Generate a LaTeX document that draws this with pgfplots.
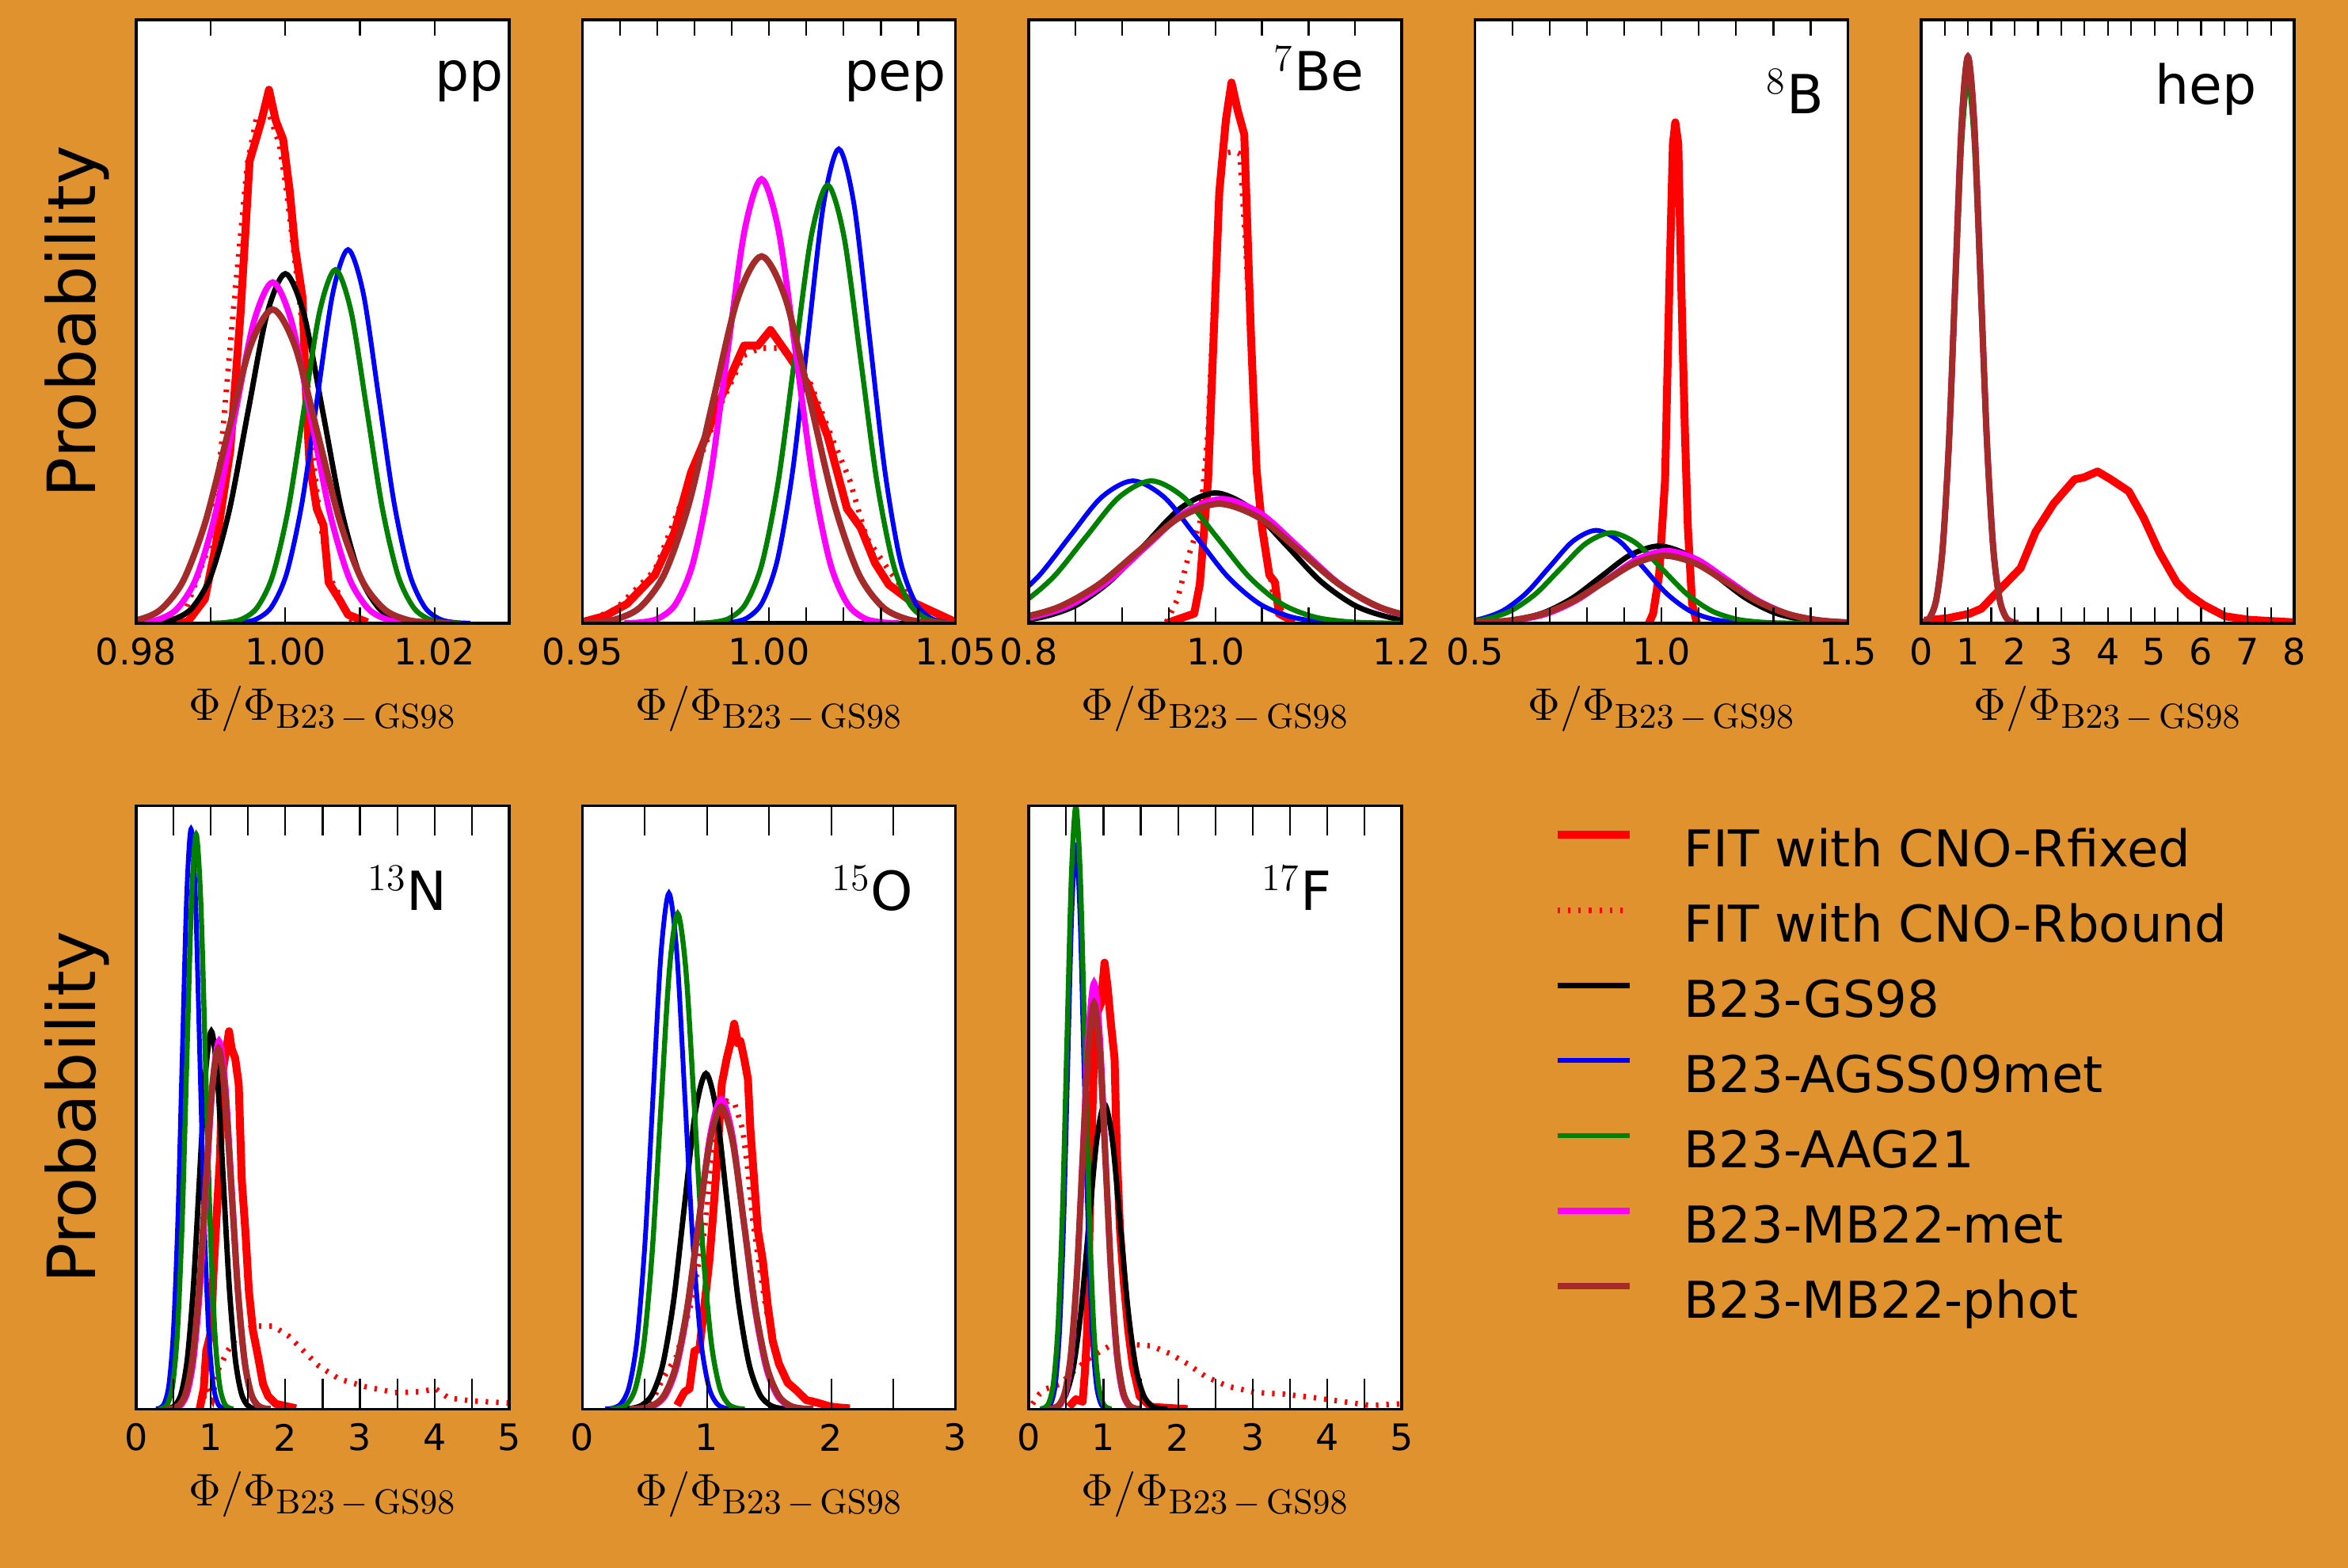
\documentclass[border=0pt]{standalone}
\usepackage[no-math]{fontspec}
\setmainfont{DejaVu Sans}
\usepackage{pgfplots}
\pgfplotsset{compat=1.18}

\definecolor{bgorange}{RGB}{223,146,45}
\definecolor{mred}{RGB}{255,0,0}
\definecolor{mblue}{RGB}{0,0,255}
\definecolor{mgreen}{RGB}{0,128,0}
\definecolor{mmag}{RGB}{255,0,255}
\definecolor{mbrown}{RGB}{165,42,42}

\newcommand\tickfont{\fontsize{11.5}{13}\selectfont}
\newcommand\labfont{\fontsize{21}{25}\selectfont}
\newcommand\panfont{\fontsize{17}{20}\selectfont}
\newcommand\legfont{\fontsize{16}{19}\selectfont}
\newcommand\xlabfont{\fontsize{15}{17}\selectfont}

\pgfplotsset{
  fitR/.style={mred, line width=2.5pt, line join=round},
  fitB/.style={mred, line width=1.7pt, dash pattern=on 0.8pt off 2.5pt},
  gs/.style={black, line width=1.7pt, smooth},
  agss/.style={mblue, line width=1.5pt, smooth},
  aag/.style={mgreen, line width=1.6pt, smooth},
  mbm/.style={mmag, line width=1.9pt, smooth},
  mbp/.style={mbrown, line width=2.0pt, smooth},
  panel/.style={
    scale only axis, width=117.75pt, height=190.5pt, anchor=north west,
    axis background/.style={fill=white},
    axis on top,
    axis line style={line width=0.9pt},
    every tick/.style={black, line width=0.55pt},
    ymin=0, ytick=\empty,
    /pgf/number format/assume math mode=true,
    xticklabel style={font=\tickfont, anchor=center, yshift=-8.9pt},
    xlabel={$\Phi/\Phi_{\mathrm{B23}\,-\,\mathrm{GS98}}$},
    xlabel style={font=\xlabfont, at={(axis description cs:0.5,0)}, anchor=base, yshift=-30.5pt},
    ylabel style={font=\labfont, at={([xshift=-12.9pt]axis description cs:0,0.5)}, anchor=base},
    no markers,
  },
  toprow/.style={panel, major tick length=4.9pt, minor tick length=9.8pt},
  botrow/.style={panel, major tick length=9.5pt, minor tick length=9.5pt},
}

\begin{document}
\begin{tikzpicture}
\fill[bgorange] (0,0) rectangle (741.25pt,-495pt);

% ---------------- pp
\begin{axis}[toprow, at={(43pt,-6.25pt)},
  xmin=0.98, xmax=1.03, ymax=120,
  xtick={0.98,0.99,1.00,1.01,1.02,1.03}, xticklabels={0.98,,1.00,,1.02,},
  minor ytick={20,40,60,80,100}, ylabel={Probability}]
\addplot[fitR] coordinates {(0.9845,0)(0.9869,0.3)(0.9892,4.8)(0.9907,15.7)(0.9926,34.3)(0.9940,61.9)(0.9952,91.9)(0.9968,100)(0.9978,106.1)(0.9987,100)(0.9997,96.2)(1.0006,85.7)(1.0013,74.7)(1.0023,64.7)(1.0027,47.6)(1.0032,32.4)(1.0042,22.8)(1.0051,19.5)(1.0058,8.1)(1.0072,4.8)(1.0084,1.7)(1.0110,0.2)};
\addplot[fitB] coordinates {(0.9836,0)(0.9864,1.7)(0.9902,17.1)(0.9916,38.1)(0.9930,61.9)(0.9949,91.4)(0.9961,100.4)(0.9978,101.4)(0.9992,95.2)(1.0001,86.6)(1.0011,74.3)(1.0020,62.8)(1.0030,47.6)(1.0037,33.3)(1.0046,20.9)(1.0058,9.5)(1.0072,5.7)(1.0082,1.9)(1.0091,0.2)};
\addplot[gs] coordinates {(0.9800,0.02)(0.9825,0.15)(0.9850,0.77)(0.9875,3.05)(0.9900,9.40)(0.9925,22.57)(0.9950,42.15)(0.9975,61.33)(1.0000,69.5)(1.0025,61.33)(1.0050,42.15)(1.0075,22.57)(1.0100,9.40)(1.0125,3.05)(1.0150,0.77)(1.0175,0.15)(1.0200,0.02)};
\addplot[agss] coordinates {(0.99200,0.02)(0.99405,0.16)(0.99610,0.82)(0.99815,3.26)(1.00020,10.05)(1.00225,24.12)(1.00430,45.06)(1.00635,65.57)(1.00840,74.3)(1.01045,65.57)(1.01250,45.06)(1.01455,24.12)(1.01660,10.05)(1.01865,3.26)(1.02070,0.82)(1.02275,0.16)(1.02480,0.02)};
\addplot[aag] coordinates {(0.9899,0.02)(0.9920,0.15)(0.9941,0.78)(0.9962,3.09)(0.9983,9.51)(1.0004,22.83)(1.0025,42.64)(1.0046,62.04)(1.0067,70.3)(1.0088,62.04)(1.0109,42.64)(1.0130,22.83)(1.0151,9.51)(1.0172,3.09)(1.0193,0.78)(1.0214,0.15)(1.0235,0.02)};
\addplot[mbm] coordinates {(0.9779,0.02)(0.98045,0.15)(0.9830,0.75)(0.98555,2.98)(0.9881,9.17)(0.99065,22.01)(0.9932,41.12)(0.99575,59.83)(0.9983,67.8)(1.00085,59.83)(1.0034,41.12)(1.00595,22.01)(1.0085,9.17)(1.01105,2.98)(1.0136,0.75)(1.01615,0.15)(1.0187,0.02)};
\addplot[mbp] coordinates {(0.9743,0.02)(0.9773,0.14)(0.9803,0.69)(0.9833,2.74)(0.9863,8.44)(0.9893,20.26)(0.9923,37.85)(0.9953,55.07)(0.9983,62.4)(1.0013,55.07)(1.0043,37.85)(1.0073,20.26)(1.0103,8.44)(1.0133,2.74)(1.0163,0.69)(1.0193,0.14)(1.0223,0.02)};
\node[anchor=base west, font=\panfont, inner sep=0pt] at (rel axis cs:0.80,0.882) {pp};
\end{axis}

% ---------------- pep
\begin{axis}[toprow, at={(183.9pt,-6.25pt)},
  xmin=0.95, xmax=1.05, ymax=5,
  xtick={0.95,0.96,0.97,0.98,0.99,1.00,1.01,1.02,1.03,1.04,1.05}, xticklabels={0.95,,,,,1.00,,,,,1.05},
  minor ytick={1,2,3,4}]
\addplot[fitR] coordinates {(0.9500,0.01)(0.9560,0.06)(0.9619,0.16)(0.9694,0.40)(0.9746,0.75)(0.9791,1.25)(0.9821,1.47)(0.9873,1.88)(0.9933,2.30)(0.9970,2.30)(1.0004,2.43)(1.0052,2.22)(1.0104,1.98)(1.0157,1.55)(1.0209,0.95)(1.0246,0.79)(1.0284,0.50)(1.0321,0.32)(1.0381,0.18)(1.0500,0.01)};
\addplot[fitB] coordinates {(0.9500,0)(0.9590,0.12)(0.9694,0.44)(0.9769,1.03)(0.9828,1.47)(0.9873,1.83)(0.9933,2.22)(0.9978,2.28)(1.0022,2.28)(1.0067,2.20)(1.0112,1.98)(1.0172,1.51)(1.0216,1.19)(1.0261,0.71)(1.0321,0.44)(1.0381,0.20)(1.0470,0.04)};
\addplot[gs] coordinates {(0.9900,0)(1.0500,0)};
\addplot[agss] coordinates {(0.9859,0.0013)(0.9900,0.0086)(0.9941,0.0436)(0.9982,0.1725)(1.0023,0.5317)(1.0064,1.276)(1.0105,2.384)(1.0146,3.468)(1.0187,3.93)(1.0228,3.468)(1.0269,2.384)(1.0310,1.276)(1.0351,0.5317)(1.0392,0.1725)(1.0433,0.0436)(1.0474,0.0086)(1.0515,0.0013)};
\addplot[aag] coordinates {(0.9805,0.0012)(0.9849,0.008)(0.9893,0.0403)(0.9937,0.1594)(0.9981,0.4911)(1.0025,1.1787)(1.0069,2.2016)(1.0113,3.2035)(1.0157,3.63)(1.0201,3.2035)(1.0245,2.2016)(1.0289,1.1787)(1.0333,0.4911)(1.0377,0.1594)(1.0421,0.0403)(1.0465,0.008)(1.0509,0.0012)};
\addplot[mbm] coordinates {(0.9612,0.0012)(0.9658,0.0081)(0.9704,0.0408)(0.9750,0.1616)(0.9796,0.4979)(0.9842,1.1949)(0.9888,2.2319)(0.9934,3.2476)(0.9980,3.68)(1.0026,3.2476)(1.0072,2.2319)(1.0118,1.1949)(1.0164,0.4979)(1.0210,0.1616)(1.0256,0.0408)(1.0302,0.0081)(1.0348,0.0012)};
\addplot[mbp] coordinates {(0.9460,0.001)(0.9525,0.0067)(0.9590,0.0337)(0.9655,0.1335)(0.9720,0.4113)(0.9785,0.9871)(0.9850,1.8438)(0.9915,2.6828)(0.9980,3.04)(1.0045,2.6828)(1.0110,1.8438)(1.0175,0.9871)(1.0240,0.4113)(1.0305,0.1335)(1.0370,0.0337)(1.0435,0.0067)(1.0500,0.001)};
\node[anchor=base west, font=\panfont, inner sep=0pt] at (rel axis cs:0.70,0.882) {pep};
\end{axis}

% ---------------- 7Be
\begin{axis}[toprow, at={(324.8pt,-6.25pt)},
  xmin=0.8, xmax=1.2, ymax=5,
  xtick={0.8,0.85,0.9,0.95,1.0,1.05,1.1,1.15,1.2}, xticklabels={0.8,,,,1.0,,,,1.2},
  minor ytick={1,2,3,4}]
\addplot[fitR] coordinates {(0.9475,0)(0.9773,0.08)(0.9833,0.32)(0.9922,1.19)(0.9982,2.38)(1.0042,3.57)(1.0113,4.17)(1.0173,4.48)(1.0239,4.25)(1.0310,4.05)(1.0382,2.38)(1.0442,1.27)(1.0501,0.79)(1.0579,0.40)(1.0639,0.34)(1.0681,0.08)(1.0848,0.01)};
\addplot[fitB] coordinates {(0.9475,0.01)(0.9594,0.20)(0.9713,0.56)(0.9833,0.83)(0.9922,1.59)(1.0012,3.17)(1.0072,3.89)(1.0203,3.91)(1.0263,3.89)(1.0322,3.17)(1.0400,1.98)(1.0460,1.19)(1.0519,0.79)(1.0609,0.28)(1.0728,0.08)(1.0848,0.01)};
\addplot[gs] coordinates {(0.7000,0.0004)(0.7375,0.0024)(0.7750,0.012)(0.8125,0.0474)(0.8500,0.1461)(0.8875,0.3507)(0.9250,0.655)(0.9625,0.9531)(1.0000,1.08)(1.0375,0.9531)(1.0750,0.655)(1.1125,0.3507)(1.1500,0.1461)(1.1875,0.0474)(1.2250,0.012)(1.2625,0.0024)(1.3000,0.0004)};
\addplot[agss] coordinates {(0.6396,0.0004)(0.6736,0.0026)(0.7076,0.0131)(0.7416,0.0518)(0.7756,0.1597)(0.8096,0.3831)(0.8436,0.7157)(0.8776,1.0414)(0.9116,1.18)(0.9456,1.0414)(0.9796,0.7157)(1.0136,0.3831)(1.0476,0.1597)(1.0816,0.0518)(1.1156,0.0131)(1.1496,0.0026)(1.1836,0.0004)};
\addplot[aag] coordinates {(0.6513,0.0004)(0.6863,0.0026)(0.7213,0.0131)(0.7563,0.0518)(0.7913,0.1597)(0.8263,0.3831)(0.8613,0.7157)(0.8963,1.0414)(0.9313,1.18)(0.9663,1.0414)(1.0013,0.7157)(1.0363,0.3831)(1.0713,0.1597)(1.1063,0.0518)(1.1413,0.0131)(1.1763,0.0026)(1.2113,0.0004)};
\addplot[mbm] coordinates {(0.6752,0.0003)(0.7167,0.0023)(0.7582,0.0114)(0.7997,0.0452)(0.8412,0.1394)(0.8827,0.3344)(0.9242,0.6247)(0.9657,0.909)(1.0072,1.03)(1.0487,0.909)(1.0902,0.6247)(1.1317,0.3344)(1.1732,0.1394)(1.2147,0.0452)(1.2562,0.0114)(1.2977,0.0023)(1.3392,0.0003)};
\addplot[mbp] coordinates {(0.6600,0.0003)(0.7030,0.0022)(0.7460,0.011)(0.7890,0.0435)(0.8320,0.1339)(0.8750,0.3215)(0.9180,0.6004)(0.9610,0.8737)(1.0040,0.99)(1.0470,0.8737)(1.0900,0.6004)(1.1330,0.3215)(1.1760,0.1339)(1.2190,0.0435)(1.2620,0.011)(1.3050,0.0022)(1.3480,0.0003)};
\node[anchor=base west, font=\panfont, inner sep=0pt] at (rel axis cs:0.655,0.882) {$^{7}$Be};
\end{axis}

% ---------------- 8B
\begin{axis}[toprow, at={(465.65pt,-6.25pt)},
  xmin=0.5, xmax=1.5, ymax=5,
  xtick={0.5,0.6,0.7,0.8,0.9,1.0,1.1,1.2,1.3,1.4,1.5}, xticklabels={0.5,,,,,1.0,,,,,1.5},
  minor ytick={1,2,3,4}]
\addplot[fitR] coordinates {(0.9662,0)(0.9775,0.08)(0.9936,0.40)(1.0096,1.19)(1.0209,2.78)(1.0305,3.97)(1.0370,4.15)(1.0450,3.97)(1.0531,2.78)(1.0627,1.59)(1.0707,0.79)(1.0820,0.16)(1.0949,0)};
\addplot[fitB] coordinates {(0.9662,0)(0.9775,0.08)(0.9936,0.40)(1.0096,1.19)(1.0209,2.78)(1.0305,3.97)(1.0370,4.12)(1.0450,3.97)(1.0531,2.78)(1.0627,1.59)(1.0707,0.79)(1.0820,0.16)(1.0949,0)};
\addplot[gs] coordinates {(0.3736,0.0002)(0.4511,0.0014)(0.5286,0.0071)(0.6061,0.0281)(0.6836,0.0866)(0.7611,0.2078)(0.8386,0.3882)(0.9161,0.5648)(0.9936,0.64)(1.0711,0.5648)(1.1486,0.3882)(1.2261,0.2078)(1.3036,0.0866)(1.3811,0.0281)(1.4586,0.0071)(1.5361,0.0014)(1.6136,0.0002)};
\addplot[agss] coordinates {(0.3248,0.0003)(0.3873,0.0017)(0.4498,0.0085)(0.5123,0.0338)(0.5748,0.1042)(0.6373,0.25)(0.6998,0.467)(0.7623,0.6795)(0.8248,0.77)(0.8873,0.6795)(0.9498,0.467)(1.0123,0.25)(1.0748,0.1042)(1.1373,0.0338)(1.1998,0.0085)(1.2623,0.0017)(1.3248,0.0003)};
\addplot[aag] coordinates {(0.3250,0.0003)(0.3925,0.0017)(0.4600,0.0083)(0.5275,0.0329)(0.5950,0.1015)(0.6625,0.2435)(0.7300,0.4549)(0.7975,0.6619)(0.8650,0.75)(0.9325,0.6619)(1.0000,0.4549)(1.0675,0.2435)(1.1350,0.1015)(1.2025,0.0329)(1.2700,0.0083)(1.3375,0.0017)(1.4050,0.0003)};
\addplot[mbm] coordinates {(0.3745,0.0002)(0.4545,0.0013)(0.5345,0.0067)(0.6145,0.0263)(0.6945,0.0812)(0.7745,0.1948)(0.8545,0.3639)(0.9345,0.5295)(1.0145,0.6)(1.0945,0.5295)(1.1745,0.3639)(1.2545,0.1948)(1.3345,0.0812)(1.4145,0.0263)(1.4945,0.0067)(1.5745,0.0013)(1.6545,0.0002)};
\addplot[mbp] coordinates {(0.3496,0.0002)(0.4321,0.0012)(0.5146,0.0062)(0.5971,0.0246)(0.6796,0.0758)(0.7621,0.1818)(0.8446,0.3396)(0.9271,0.4942)(1.0096,0.56)(1.0921,0.4942)(1.1746,0.3396)(1.2571,0.1818)(1.3396,0.0758)(1.4221,0.0246)(1.5046,0.0062)(1.5871,0.0012)(1.6696,0.0002)};
\node[anchor=base west, font=\panfont, inner sep=0pt] at (rel axis cs:0.78,0.844) {$^{8}$B};
\end{axis}

% ---------------- hep
\begin{axis}[toprow, at={(606.55pt,-6.25pt)},
  xmin=0, xmax=8, ymax=7,
  xtick={0,0.5,1,1.5,2,2.5,3,3.5,4,4.5,5,5.5,6,6.5,7,7.5,8}, xticklabels={0,,1,,2,,3,,4,,5,,6,,7,,8},
  minor ytick={1,2,3,4,5,6}]
\addplot[fitR] coordinates {(0.06,0.03)(0.58,0.06)(1.03,0.11)(1.29,0.17)(1.68,0.39)(2.13,0.64)(2.45,1.06)(2.84,1.39)(3.29,1.67)(3.48,1.69)(3.78,1.76)(4.06,1.67)(4.45,1.53)(4.77,1.22)(5.10,0.83)(5.48,0.47)(5.74,0.33)(6.06,0.21)(6.52,0.08)(7.03,0.04)(8.00,0.01)};
\addplot[fitB] coordinates {(0.06,0.03)(0.58,0.06)(1.03,0.12)(1.29,0.17)(1.68,0.40)(2.13,0.66)(2.45,1.05)(2.84,1.40)(3.29,1.66)(3.48,1.70)(3.78,1.75)(4.06,1.68)(4.45,1.52)(4.77,1.23)(5.10,0.82)(5.48,0.48)(5.74,0.32)(6.06,0.22)(6.52,0.08)(7.03,0.04)(8.00,0.01)};
\addplot[gs] coordinates {(-0.080,0.0022)(0.055,0.0145)(0.190,0.0729)(0.325,0.2884)(0.460,0.8889)(0.595,2.1333)(0.730,3.9847)(0.865,5.798)(1.000,6.57)(1.135,5.798)(1.270,3.9847)(1.405,2.1333)(1.540,0.8889)(1.675,0.2884)(1.810,0.0729)(1.945,0.0145)(2.080,0.0022)};
\addplot[agss] coordinates {(-0.080,0.0022)(0.055,0.0145)(0.190,0.0729)(0.325,0.2884)(0.460,0.8889)(0.595,2.1333)(0.730,3.9847)(0.865,5.798)(1.000,6.57)(1.135,5.798)(1.270,3.9847)(1.405,2.1333)(1.540,0.8889)(1.675,0.2884)(1.810,0.0729)(1.945,0.0145)(2.080,0.0022)};
\addplot[aag] coordinates {(-0.080,0.0021)(0.055,0.0139)(0.190,0.0699)(0.325,0.2766)(0.460,0.8524)(0.595,2.0456)(0.730,3.821)(0.865,5.5598)(1.000,6.3)(1.135,5.5598)(1.270,3.821)(1.405,2.0456)(1.540,0.8524)(1.675,0.2766)(1.810,0.0699)(1.945,0.0139)(2.080,0.0021)};
\addplot[mbm] coordinates {(-0.080,0.0022)(0.055,0.0145)(0.190,0.0729)(0.325,0.2884)(0.460,0.8889)(0.595,2.1333)(0.730,3.9847)(0.865,5.798)(1.000,6.57)(1.135,5.798)(1.270,3.9847)(1.405,2.1333)(1.540,0.8889)(1.675,0.2884)(1.810,0.0729)(1.945,0.0145)(2.080,0.0022)};
\addplot[mbp] coordinates {(-0.080,0.0022)(0.055,0.0145)(0.190,0.0729)(0.325,0.2884)(0.460,0.8889)(0.595,2.1333)(0.730,3.9847)(0.865,5.798)(1.000,6.57)(1.135,5.798)(1.270,3.9847)(1.405,2.1333)(1.540,0.8889)(1.675,0.2884)(1.810,0.0729)(1.945,0.0145)(2.080,0.0022)};
\node[anchor=base west, font=\panfont, inner sep=0pt] at (rel axis cs:0.625,0.86) {hep};
\end{axis}

% ---------------- 13N
\begin{axis}[botrow, at={(43pt,-254.35pt)},
  xmin=0, xmax=5, ymax=8,
  xtick={0,0.5,1,1.5,2,2.5,3,3.5,4,4.5,5}, xticklabels={0,,1,,2,,3,,4,,5},
  minor ytick={1,2,3,4,5,6,7}, ylabel={Probability}]
\addplot[fitR] coordinates {(0.850,0)(0.905,0.27)(0.939,0.77)(1.007,1.04)(1.034,1.77)(1.075,2.51)(1.122,3.31)(1.156,4.45)(1.204,4.75)(1.245,5.01)(1.279,4.78)(1.327,4.65)(1.374,4.31)(1.415,3.04)(1.463,2.37)(1.510,1.57)(1.565,1.04)(1.633,0.70)(1.701,0.33)(1.769,0.17)(1.871,0.07)(2.143,0.01)};
\addplot[fitB] coordinates {(0.850,0.02)(0.952,0.27)(1.020,0.13)(1.088,0.50)(1.224,0.77)(1.361,0.97)(1.565,1.10)(1.837,1.10)(2.041,0.97)(2.245,0.77)(2.449,0.57)(2.721,0.40)(3.061,0.30)(3.469,0.22)(3.810,0.23)(4.014,0.27)(4.184,0.15)(4.490,0.11)(5.000,0.08)};
\addplot[gs] coordinates {(0.367,0.0017)(0.447,0.011)(0.527,0.0556)(0.607,0.2199)(0.687,0.6779)(0.767,1.6267)(0.847,3.0386)(0.927,4.4213)(1.007,5.01)(1.087,4.4213)(1.167,3.0386)(1.247,1.6267)(1.327,0.6779)(1.407,0.2199)(1.487,0.0556)(1.567,0.011)(1.647,0.0017)};
\addplot[agss] coordinates {(0.263,0.0026)(0.322,0.0169)(0.381,0.0854)(0.440,0.3376)(0.499,1.0405)(0.558,2.497)(0.617,4.664)(0.676,6.7864)(0.735,7.69)(0.794,6.7864)(0.853,4.664)(0.912,2.497)(0.971,1.0405)(1.030,0.3376)(1.089,0.0854)(1.148,0.0169)(1.207,0.0026)};
\addplot[aag] coordinates {(0.303,0.0026)(0.3655,0.0168)(0.428,0.0846)(0.4905,0.3345)(0.553,1.031)(0.6155,2.4742)(0.678,4.6215)(0.7405,6.7247)(0.803,7.62)(0.8655,6.7247)(0.928,4.6215)(0.9905,2.4742)(1.053,1.031)(1.1155,0.3345)(1.178,0.0846)(1.2405,0.0168)(1.303,0.0026)};
\addplot[mbm] coordinates {(0.429,0.0016)(0.514,0.0107)(0.599,0.0542)(0.684,0.2142)(0.769,0.6603)(0.854,1.5845)(0.939,2.9597)(1.024,4.3066)(1.109,4.88)(1.194,4.3066)(1.279,2.9597)(1.364,1.5845)(1.449,0.6603)(1.534,0.2142)(1.619,0.0542)(1.704,0.0107)(1.789,0.0016)};
\addplot[mbp] coordinates {(0.402,0.0016)(0.4895,0.0105)(0.577,0.0531)(0.6645,0.2098)(0.752,0.6467)(0.8395,1.5521)(0.927,2.8991)(1.0145,4.2184)(1.102,4.78)(1.1895,4.2184)(1.277,2.8991)(1.3645,1.5521)(1.452,0.6467)(1.5395,0.2098)(1.627,0.0531)(1.7145,0.0105)(1.802,0.0016)};
\node[anchor=base west, font=\panfont, inner sep=0pt] at (rel axis cs:0.62,0.827) {$^{13}$N};
\end{axis}

% ---------------- 15O
\begin{axis}[botrow, at={(183.9pt,-254.35pt)},
  xmin=0, xmax=3, ymax=8,
  xtick={0,0.5,1,1.5,2,2.5,3}, xticklabels={0,,1,,2,,3},
  minor ytick={1,2,3,4,5,6,7}]
\addplot[fitR] coordinates {(0.76,0.05)(0.82,0.23)(0.86,0.27)(0.90,0.77)(0.94,0.80)(0.98,1.37)(1.02,1.97)(1.05,2.57)(1.08,3.24)(1.12,4.31)(1.16,4.65)(1.19,4.85)(1.22,5.11)(1.25,4.85)(1.27,4.88)(1.30,4.65)(1.33,4.38)(1.35,3.71)(1.38,3.04)(1.41,2.37)(1.45,1.97)(1.49,1.37)(1.53,0.90)(1.58,0.60)(1.65,0.35)(1.72,0.25)(1.80,0.12)(1.90,0.08)(2.00,0.03)(2.15,0.01)};
\addplot[fitB] coordinates {(0.552,0.07)(0.634,0.37)(0.756,0.70)(0.879,1.44)(0.981,2.37)(1.063,3.71)(1.165,4.08)(1.226,4.04)(1.288,3.71)(1.329,3.18)(1.369,2.51)(1.410,2.04)(1.472,1.37)(1.533,0.84)(1.615,0.44)(1.750,0.20)(1.900,0.08)(2.100,0.02)};
\addplot[gs] coordinates {(0.301,0.0015)(0.3875,0.0098)(0.474,0.0494)(0.5605,0.1954)(0.647,0.6021)(0.7335,1.4449)(0.820,2.6989)(0.9065,3.9271)(0.993,4.45)(1.0795,3.9271)(1.166,2.6989)(1.2525,1.4449)(1.339,0.6021)(1.4255,0.1954)(1.512,0.0494)(1.5985,0.0098)(1.685,0.0015)};
\addplot[agss] coordinates {(0.183,0.0023)(0.247,0.015)(0.311,0.0759)(0.375,0.3003)(0.439,0.9255)(0.503,2.221)(0.567,4.1485)(0.631,6.0363)(0.695,6.84)(0.759,6.0363)(0.823,4.1485)(0.887,2.221)(0.951,0.9255)(1.015,0.3003)(1.079,0.0759)(1.143,0.015)(1.207,0.0023)};
\addplot[aag] coordinates {(0.225,0.0022)(0.2925,0.0145)(0.360,0.0729)(0.4275,0.2884)(0.495,0.8889)(0.5625,2.1333)(0.630,3.9847)(0.6975,5.798)(0.765,6.57)(0.8325,5.798)(0.900,3.9847)(0.9675,2.1333)(1.035,0.8889)(1.1025,0.2884)(1.170,0.0729)(1.2375,0.0145)(1.305,0.0022)};
\addplot[mbm] coordinates {(0.396,0.0014)(0.486,0.009)(0.576,0.0456)(0.666,0.1804)(0.756,0.5561)(0.846,1.3345)(0.936,2.4927)(1.026,3.6271)(1.116,4.11)(1.206,3.6271)(1.296,2.4927)(1.386,1.3345)(1.476,0.5561)(1.566,0.1804)(1.656,0.0456)(1.746,0.009)(1.836,0.0014)};
\addplot[mbp] coordinates {(0.376,0.0013)(0.4685,0.0088)(0.561,0.0445)(0.6535,0.176)(0.746,0.5426)(0.8385,1.302)(0.931,2.4321)(1.0235,3.5388)(1.116,4.01)(1.2085,3.5388)(1.301,2.4321)(1.3935,1.302)(1.486,0.5426)(1.5785,0.176)(1.671,0.0445)(1.7635,0.0088)(1.856,0.0013)};
\node[anchor=base west, font=\panfont, inner sep=0pt] at (rel axis cs:0.667,0.827) {$^{15}$O};
\end{axis}

% ---------------- 17F (carries the legend)
\begin{axis}[botrow, at={(324.8pt,-254.35pt)},
  xmin=0, xmax=5, ymax=8,
  xtick={0,0.5,1,1.5,2,2.5,3,3.5,4,4.5,5}, xticklabels={0,,1,,2,,3,,4,,5},
  minor ytick={1,2,3,4,5,6,7},
  legend cell align=left,
  legend style={at={(1.405,0.963)}, anchor=north west, draw=none, fill=none,
    inner sep=0pt, row sep=8.25pt, column sep=16pt, font=\legfont,
    nodes={inner sep=0pt, text height=12pt, text depth=3.5pt}},
  legend image code/.code={\draw[#1] (0pt,5.8pt) -- (22.75pt,5.8pt);}]
\addplot[fitR] coordinates {(0.538,0.03)(0.630,0.13)(0.721,0.10)(0.752,0.50)(0.782,1.04)(0.813,2.37)(0.844,3.71)(0.874,4.65)(0.917,5.25)(0.966,5.38)(1.015,5.92)(1.057,5.58)(1.100,5.11)(1.149,4.65)(1.180,3.38)(1.222,2.37)(1.271,1.70)(1.333,1.04)(1.394,0.57)(1.485,0.17)(1.638,0.03)(2.127,0)};
\addlegendentry{FIT with CNO-Rfixed}
\addplot[fitB] coordinates {(0.049,0.07)(0.141,0.20)(0.232,0.27)(0.416,0.33)(0.599,0.50)(0.844,0.70)(1.088,0.84)(1.333,0.86)(1.638,0.84)(1.883,0.74)(2.127,0.60)(2.372,0.43)(2.677,0.30)(3.044,0.22)(3.411,0.20)(3.839,0.15)(4.205,0.10)(4.572,0.05)(5.000,0.07)};
\addlegendentry{FIT with CNO-Rbound}
\addplot[gs] coordinates {(0.175,0.0014)(0.280,0.0089)(0.385,0.0448)(0.490,0.1774)(0.595,0.5466)(0.700,1.3118)(0.805,2.4503)(0.910,3.5653)(1.015,4.04)(1.120,3.5653)(1.225,2.4503)(1.330,1.3118)(1.435,0.5466)(1.540,0.1774)(1.645,0.0448)(1.750,0.0089)(1.855,0.0014)};
\addlegendentry{B23-GS98}
\addplot[agss] coordinates {(0.19,0.0025)(0.245,0.0164)(0.30,0.0827)(0.355,0.3271)(0.41,1.008)(0.465,2.419)(0.52,4.5184)(0.575,6.5746)(0.63,7.45)(0.685,6.5746)(0.74,4.5184)(0.795,2.419)(0.85,1.008)(0.905,0.3271)(0.96,0.0827)(1.015,0.0164)(1.07,0.0025)};
\addlegendentry{B23-AGSS09met}
\addplot[aag] coordinates {(0.15,0.0027)(0.21,0.0176)(0.27,0.0887)(0.33,0.3508)(0.39,1.081)(0.45,2.5944)(0.51,4.8459)(0.57,7.0512)(0.63,7.99)(0.69,7.0512)(0.75,4.8459)(0.81,2.5944)(0.87,1.081)(0.93,0.3508)(0.99,0.0887)(1.05,0.0176)(1.11,0.0027)};
\addlegendentry{B23-AAG21}
\addplot[mbm] coordinates {(0.274,0.0019)(0.349,0.0124)(0.424,0.0627)(0.499,0.248)(0.574,0.7644)(0.649,1.8346)(0.724,3.4267)(0.799,4.9861)(0.874,5.65)(0.949,4.9861)(1.024,3.4267)(1.099,1.8346)(1.174,0.7644)(1.249,0.248)(1.324,0.0627)(1.399,0.0124)(1.474,0.0019)};
\addlegendentry{B23-MB22-met}
\addplot[mbp] coordinates {(0.254,0.0018)(0.3315,0.0118)(0.409,0.0597)(0.4865,0.2362)(0.564,0.7279)(0.6415,1.7469)(0.719,3.263)(0.7965,4.7479)(0.874,5.38)(0.9515,4.7479)(1.029,3.263)(1.1065,1.7469)(1.184,0.7279)(1.2615,0.2362)(1.339,0.0597)(1.4165,0.0118)(1.494,0.0018)};
\addlegendentry{B23-MB22-phot}
\node[anchor=base west, font=\panfont, inner sep=0pt] at (rel axis cs:0.623,0.827) {$^{17}$F};
\end{axis}
\end{tikzpicture}
\end{document}
